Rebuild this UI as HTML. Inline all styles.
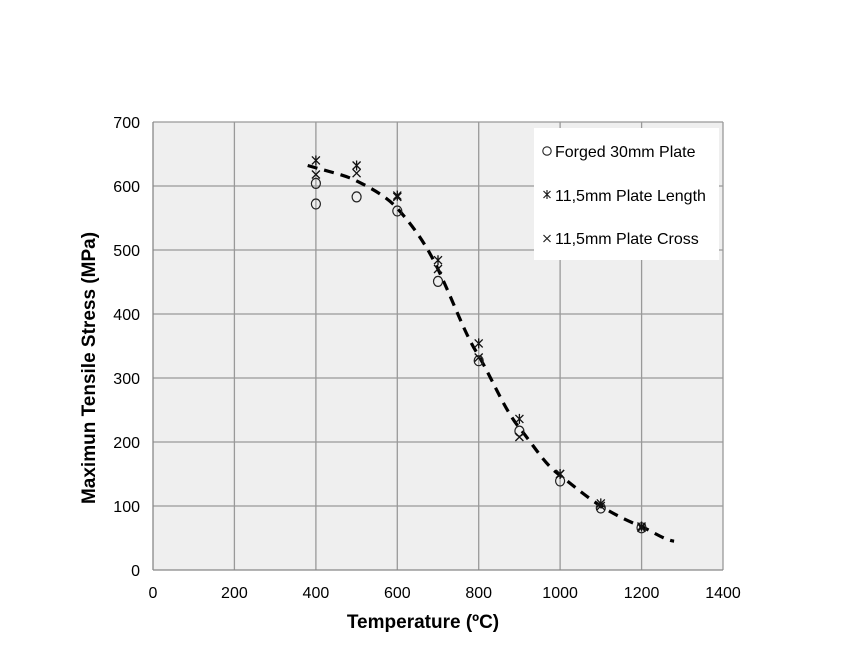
<!DOCTYPE html>
<html><head><meta charset="utf-8"><style>body{margin:0;background:#fff}svg{display:block}</style></head>
<body>
<svg width="856" height="654" xmlns="http://www.w3.org/2000/svg" font-family="Liberation Sans, Arial, sans-serif">
<rect width="856" height="654" fill="#fff"/>
<rect x="153" y="122" width="570" height="448" fill="#efefef"/>
<g stroke="#999" stroke-width="1.3">
<line x1="234.4" y1="122" x2="234.4" y2="570"/><line x1="315.9" y1="122" x2="315.9" y2="570"/>
<line x1="397.3" y1="122" x2="397.3" y2="570"/><line x1="478.7" y1="122" x2="478.7" y2="570"/>
<line x1="560.1" y1="122" x2="560.1" y2="570"/><line x1="641.6" y1="122" x2="641.6" y2="570"/>
<line x1="723" y1="122" x2="723" y2="570"/>
<line x1="153" y1="122" x2="723" y2="122"/><line x1="153" y1="186" x2="723" y2="186"/>
<line x1="153" y1="250" x2="723" y2="250"/><line x1="153" y1="314" x2="723" y2="314"/>
<line x1="153" y1="378" x2="723" y2="378"/><line x1="153" y1="442" x2="723" y2="442"/>
<line x1="153" y1="506" x2="723" y2="506"/>
</g>
<g stroke="#888" stroke-width="1.3"><line x1="153" y1="122" x2="153" y2="570"/><line x1="153" y1="570" x2="723" y2="570"/></g>
<g font-size="16" fill="#000" text-anchor="end">
<text x="140" y="128">700</text><text x="140" y="192">600</text><text x="140" y="256">500</text>
<text x="140" y="320">400</text><text x="140" y="384">300</text><text x="140" y="448">200</text>
<text x="140" y="512">100</text><text x="140" y="576">0</text>
</g>
<g font-size="16" fill="#000" text-anchor="middle">
<text x="153" y="598">0</text><text x="234.4" y="598">200</text><text x="315.9" y="598">400</text>
<text x="397.3" y="598">600</text><text x="478.7" y="598">800</text><text x="560.1" y="598">1000</text>
<text x="641.6" y="598">1200</text><text x="723" y="598">1400</text>
</g>
<text x="423" y="628" font-size="19" font-weight="bold" text-anchor="middle">Temperature  (ºC)</text>
<text transform="translate(95,368) rotate(-90)" font-size="19" font-weight="bold" text-anchor="middle">Maximun Tensile Stress (MPa)</text>
<path d="M307.7,165.5 C330,172 345,175 356.6,180.9 C375,190 388,198 397.3,208.4 C415,228 428,248 438,269.2 C455,305 465,335 478.7,355.6 C495,385 505,410 519.4,427.9 C535,447 545,465 560.1,475.3 C575,487 588,498 600.8,506 C615,515 630,522 641.5,526.5 C655,533 665,540 674.1,541.2" fill="none" stroke="#000" stroke-width="3.2" stroke-dasharray="10,7"/>
<g fill="none" stroke="#222" stroke-width="1.2">
<ellipse cx="315.9" cy="183.4" rx="4.5" ry="5"/><ellipse cx="315.9" cy="204" rx="4.5" ry="5"/>
<ellipse cx="356.6" cy="196.9" rx="4.5" ry="5"/><ellipse cx="397.3" cy="211" rx="4.5" ry="5"/>
<ellipse cx="438" cy="281.4" rx="4.5" ry="5"/><ellipse cx="478.7" cy="360.7" rx="4.5" ry="5"/>
<ellipse cx="519.4" cy="431.1" rx="4.5" ry="5"/><ellipse cx="560.1" cy="481" rx="4.5" ry="5"/>
<ellipse cx="600.8" cy="508" rx="4.5" ry="5"/><ellipse cx="641.5" cy="527.8" rx="4.5" ry="5"/>
</g>
<g stroke="#111" stroke-width="1.3" id="pts">
<path d="M311.9,156.4l8,8M319.9,156.4l-8,8M315.9,155.5v10"/>
<path d="M352.6,161.5l8,8M360.6,161.5l-8,8M356.6,160.5v10"/>
<path d="M393.3,191.6l8,8M401.3,191.6l-8,8M397.3,190.6v10"/>
<path d="M434,256.2l8,8M442,256.2l-8,8M438,255.2v10"/>
<path d="M474.7,339.4l8,8M482.7,339.4l-8,8M478.7,338.4v10"/>
<path d="M515.4,414.9l8,8M523.4,414.9l-8,8M519.4,413.9v10"/>
<path d="M556.1,470l8,8M564.1,470l-8,8M560.1,469v10"/>
<path d="M596.8,499.4l8,8M604.8,499.4l-8,8M600.8,498.4v10"/>
<path d="M637.5,522.5l8,8M645.5,522.5l-8,8M641.5,521.5v10"/>
<path d="M311.9,170.5l8,8M319.9,170.5l-8,8"/>
<path d="M352.6,169.2l8,8M360.6,169.2l-8,8"/>
<path d="M393.3,192.9l8,8M401.3,192.9l-8,8"/>
<path d="M434,265l8,8M442,265l-8,8"/>
<path d="M474.7,353.5l8,8M482.7,353.5l-8,8"/>
<path d="M515.4,433l8,8M523.4,433l-8,8"/>
<path d="M556.1,470l8,8M564.1,470l-8,8"/>
<path d="M596.8,502l8,8M604.8,502l-8,8"/>
<path d="M637.5,523.8l8,8M645.5,523.8l-8,8"/>
</g>
<rect x="534" y="128" width="185" height="132" fill="#fff"/>
<g font-size="16" fill="#000">
<circle cx="547" cy="151" r="4.2" fill="none" stroke="#222" stroke-width="1.1"/>
<text x="555" y="157">Forged 30mm Plate</text>
<path d="M543.5,191l7,7M550.5,191l-7,7M547,190v9" stroke="#222" stroke-width="1.2"/>
<text x="555" y="201">11,5mm Plate Length</text>
<path d="M543.5,235l7,7M550.5,235l-7,7" stroke="#222" stroke-width="1.2"/>
<text x="555" y="244">11,5mm Plate Cross</text>
</g>
</svg>
</body></html>
